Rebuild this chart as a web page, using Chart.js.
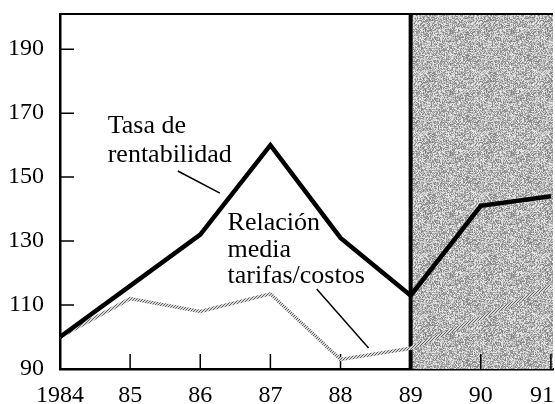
<!DOCTYPE html>
<html>
<head>
<meta charset="utf-8">
<script src="https://cdn.jsdelivr.net/npm/chart.js@4"></script>
<style>
  html, body { margin: 0; padding: 0; background: #fff; }
  #wrap { width: 555px; height: 404px; }
</style>
</head>
<body>
<div id="wrap"><canvas id="chart" width="555" height="404"></canvas></div>
<script>
// data
const years = [1984, 1985, 1986, 1987, 1988, 1989, 1990, 1991];
const tasaRentabilidad = [100, 116, 132, 160, 131, 113, 141, 144];
const relacionTarifas = [100, 112, 108, 113.5, 93, 96.5, 106, 116];
const yTicks = [90, 110, 130, 150, 170, 190];
const shadedFrom = 1989;

const FONT = '"Liberation Serif", "DejaVu Serif", serif';

// grey stipple used for the shaded period
function makeNoise(size, lo, hi) {
  const c = document.createElement('canvas');
  c.width = size; c.height = size;
  const g = c.getContext('2d');
  const img = g.createImageData(size, size);
  for (let i = 0; i < size * size; i++) {
    const h = Math.abs(Math.sin(i * 12.9898 + (i % 7) * 78.233) * 43758.5453) % 1;
    const v = Math.round(lo + h * (hi - lo));
    img.data[i * 4] = v; img.data[i * 4 + 1] = v; img.data[i * 4 + 2] = v; img.data[i * 4 + 3] = 255;
  }
  g.putImageData(img, 0, 0);
  return g.createPattern(c, 'repeat');
}

function makeDots() {
  const c = document.createElement('canvas');
  c.width = 3; c.height = 3;
  const g = c.getContext('2d');
  g.fillStyle = '#d4d4d4';
  g.fillRect(0, 0, 3, 3);
  g.fillStyle = '#666';
  g.fillRect(0, 0, 1, 1);
  g.fillRect(2, 1, 1, 1);
  g.fillRect(1, 2, 1, 1);
  return g.createPattern(c, 'repeat');
}

const ctx = document.getElementById('chart').getContext('2d');
const shade = makeNoise(61, 125, 240);
const dots = makeDots();

const deco = {
  id: 'deco',
  beforeDatasetsDraw(chart) {
    const { ctx, chartArea: a, scales: { x, y } } = chart;
    ctx.save();
    const xs = x.getPixelForValue(shadedFrom);
    ctx.fillStyle = shade;
    ctx.fillRect(xs, a.top, a.right - xs, a.bottom - a.top);

    ctx.strokeStyle = '#000';
    ctx.lineWidth = 4;
    ctx.beginPath();
    ctx.moveTo(xs, a.top);
    ctx.lineTo(xs, a.bottom);
    ctx.stroke();

    ctx.lineWidth = 2;
    ctx.beginPath();
    ctx.moveTo(a.left, a.top);
    ctx.lineTo(a.right, a.top);
    ctx.stroke();

    // inward tick marks
    ctx.lineWidth = 1.5;
    ctx.beginPath();
    yTicks.forEach(v => {
      if (v === yTicks[0]) return;
      const py = y.getPixelForValue(v);
      ctx.moveTo(a.left, py);
      ctx.lineTo(a.left + 14, py);
    });
    years.forEach(v => {
      if (v === years[0]) return;
      const px = x.getPixelForValue(v);
      ctx.moveTo(px, a.bottom);
      ctx.lineTo(px, a.bottom - 15);
    });
    ctx.stroke();
    ctx.restore();
  },
  afterDatasetsDraw(chart) {
    const { ctx, scales: { x, y } } = chart;
    ctx.save();
    ctx.fillStyle = '#000';
    ctx.strokeStyle = '#000';
    ctx.font = '26px ' + FONT;
    ctx.textBaseline = 'alphabetic';
    ctx.textAlign = 'left';

    const text = (s, xv, yv) => ctx.fillText(s, x.getPixelForValue(xv), y.getPixelForValue(yv));
    const lead = (x1, y1, x2, y2) => {
      ctx.beginPath();
      ctx.moveTo(x.getPixelForValue(x1), y.getPixelForValue(y1));
      ctx.lineTo(x.getPixelForValue(x2), y.getPixelForValue(y2));
      ctx.stroke();
    };

    text('Tasa de', 1984.68, 163.7);
    text('rentabilidad', 1984.68, 154.7);
    ctx.lineWidth = 1.5;
    lead(1985.68, 151.9, 1986.28, 145);

    text('Relación', 1986.39, 133.4);
    text('media', 1986.39, 125);
    text('tarifas/costos', 1986.39, 116.9);
    lead(1987.66, 115, 1988.40, 96.6);
    ctx.restore();
  }
};

new Chart(ctx, {
  type: 'line',
  data: {
    datasets: [
      {
        label: 'Tasa de rentabilidad',
        data: years.map((yr, i) => ({ x: yr, y: tasaRentabilidad[i] })),
        borderColor: '#000',
        borderWidth: 4.5,
        pointRadius: 0,
        tension: 0,
      },
      {
        label: 'Relación media tarifas/costos',
        data: years.map((yr, i) => ({ x: yr, y: relacionTarifas[i] })),
        borderColor: dots,
        borderWidth: 3.5,
        pointRadius: 0,
        tension: 0,
      },
    ],
  },
  options: {
    responsive: false,
    animation: false,
    layout: { autoPadding: false, padding: { top: 14, right: 2, left: 0, bottom: 0 } },
    plugins: { legend: { display: false }, tooltip: { enabled: false } },
    scales: {
      x: {
        type: 'linear',
        min: 1984,
        max: 1991.03,
        afterBuildTicks: s => { s.ticks = years.map(v => ({ value: v })); },
        afterFit: s => {
          s.height = 35;
          s.paddingLeft = 0; s.paddingRight = 0; s.paddingTop = 0; s.paddingBottom = 0;
        },
        grid: { drawOnChartArea: false, drawTicks: false },
        border: { display: true, color: '#000', width: 2.5 },
        ticks: {
          color: '#000',
          padding: 12,
          maxRotation: 0,
          autoSkip: false,
          font: { family: FONT, size: 24 },
          callback: v => {
            if (v === years[0]) return String(v);
            const s = String(v).slice(2);
            // last label sits against the edge, nudge it left
            return v === years[years.length - 1] ? s + '   ' : s;
          },
        },
      },
      y: {
        min: 90,
        max: 201,
        afterBuildTicks: s => { s.ticks = yTicks.map(v => ({ value: v })); },
        afterFit: s => {
          s.width = 60;
          s.paddingLeft = 0; s.paddingRight = 0; s.paddingTop = 0; s.paddingBottom = 0;
        },
        grid: { drawOnChartArea: false, drawTicks: false },
        border: { display: true, color: '#000', width: 2.5 },
        ticks: {
          color: '#000',
          padding: 16,
          font: { family: FONT, size: 24 },
        },
      },
    },
  },
  plugins: [deco],
});
</script>
</body>
</html>
